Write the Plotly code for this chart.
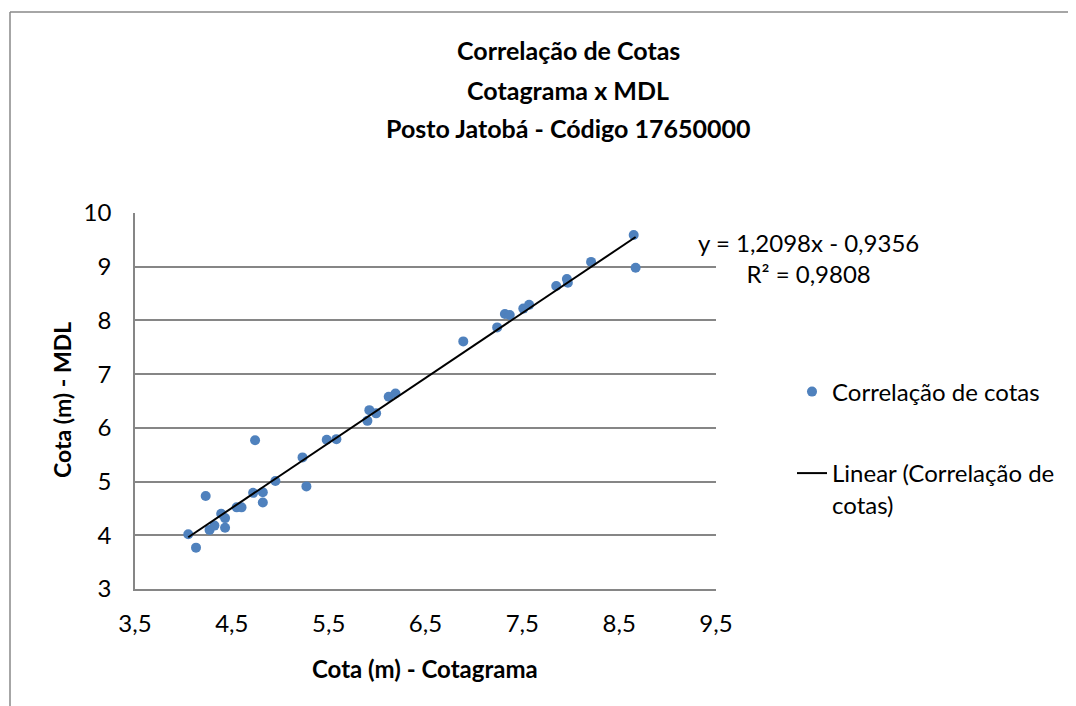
import plotly.graph_objects as go

# Cota (m) - Cotagrama
cota_cotagrama = [4.05, 4.13, 4.23, 4.27, 4.32, 4.39, 4.43, 4.43, 4.55, 4.60,
                  4.72, 4.74, 4.82, 4.82, 4.95, 5.23, 5.27, 5.48, 5.58, 5.90,
                  5.92, 5.99, 6.12, 6.19, 6.89, 7.24, 7.32, 7.37, 7.51, 7.57,
                  7.85, 7.96, 7.97, 8.21, 8.65, 8.67]
# Cota (m) - MDL
cota_mdl = [4.02, 3.77, 4.73, 4.10, 4.18, 4.40, 4.32, 4.14, 4.52, 4.52,
            4.79, 5.77, 4.80, 4.61, 5.01, 5.45, 4.91, 5.78, 5.79, 6.13,
            6.33, 6.27, 6.58, 6.64, 7.61, 7.87, 8.12, 8.10, 8.22, 8.29,
            8.64, 8.77, 8.70, 9.09, 9.59, 8.98]

slope = 1.2098
intercept = -0.9356
r2 = 0.9808

x_ticks = [3.5, 4.5, 5.5, 6.5, 7.5, 8.5, 9.5]
y_ticks = [3, 4, 5, 6, 7, 8, 9, 10]

FONT = "Lato"
OFF = 8  # page body margin
W, H = 1076 - OFF, 706 - OFF
# plot area in screen pixels
L, R, T, B = 135, 716, 213, 589


def px(xp):
    return (xp - L) / (R - L)


def py(yp):
    return (B - yp) / (B - T)


trend_x = [min(cota_cotagrama), max(cota_cotagrama)]
trend_y = [slope * v + intercept for v in trend_x]

fig = go.Figure()
fig.add_trace(go.Scatter(
    x=cota_cotagrama, y=cota_mdl, mode="markers",
    name="Correlação de cotas",
    marker=dict(color="#4F81BD", size=10),
    legend="legend",
))
fig.add_trace(go.Scatter(
    x=trend_x, y=trend_y, mode="lines",
    name="Linear (Correlação de<br>cotas)",
    line=dict(color="black", width=2),
    legend="legend2",
))

fig.update_layout(
    width=W, height=H,
    margin=dict(l=L - OFF, r=W - (R - OFF), t=T - OFF, b=H - (B - OFF)),
    plot_bgcolor="white", paper_bgcolor="white",
    separators=",.",
    font=dict(family=FONT, size=24, color="black"),
    legend=dict(x=px(792), y=py(392), xanchor="left", yanchor="middle",
                bgcolor="rgba(0,0,0,0)", font=dict(size=24)),
    legend2=dict(x=px(792), y=py(489), xanchor="left", yanchor="middle",
                 valign="top", bgcolor="rgba(0,0,0,0)", font=dict(size=24)),
    showlegend=True,
)

fig.update_xaxes(
    range=[3.5, 9.5], tickvals=x_ticks, tickformat=".1f",
    showgrid=False, zeroline=False,
    showline=True, linecolor="#868686", linewidth=1.5,
    ticks="", ticklabelstandoff=12,
)
fig.update_yaxes(
    range=[3, 10], tickvals=y_ticks,
    showgrid=True, gridcolor="#868686", gridwidth=1.5, zeroline=False,
    showline=True, linecolor="#868686", linewidth=1.5,
    ticks="", ticklabelstandoff=17,
)

# axis titles
fig.add_annotation(text="<b>Cota (m) - Cotagrama</b>", xref="paper", yref="paper",
                   x=px(425), y=py(668), showarrow=False,
                   xanchor="center", yanchor="middle", font=dict(size=24))
fig.add_annotation(text="<b>Cota (m) - MDL</b>", xref="paper", yref="paper",
                   x=px(62), y=py(400), showarrow=False, textangle=-90,
                   xanchor="center", yanchor="middle", font=dict(size=23))

titles = [("Correlação de Cotas", 50), ("Cotagrama x MDL", 90), ("Posto Jatobá - Código 17650000", 128)]
for txt, yy in titles:
    fig.add_annotation(text="<b>" + txt + "</b>", xref="paper", yref="paper",
                       x=px(568), y=py(yy), showarrow=False,
                       xanchor="center", yanchor="middle", font=dict(size=25))

fig.add_annotation(text="y = 1,2098x - 0,9356<br>R² = 0,9808", xref="paper", yref="paper",
                   x=px(808), y=py(258), showarrow=False, align="center",
                   xanchor="center", yanchor="middle", font=dict(size=24))

# chart outer border
fig.add_shape(type="line", xref="paper", yref="paper",
              x0=px(10), y0=py(12), x1=px(1090), y1=py(12),
              line=dict(color="#888888", width=1.5))
fig.add_shape(type="line", xref="paper", yref="paper",
              x0=px(10), y0=py(12), x1=px(10), y1=py(720),
              line=dict(color="#888888", width=1.5))

fig.write_html("out.html")
